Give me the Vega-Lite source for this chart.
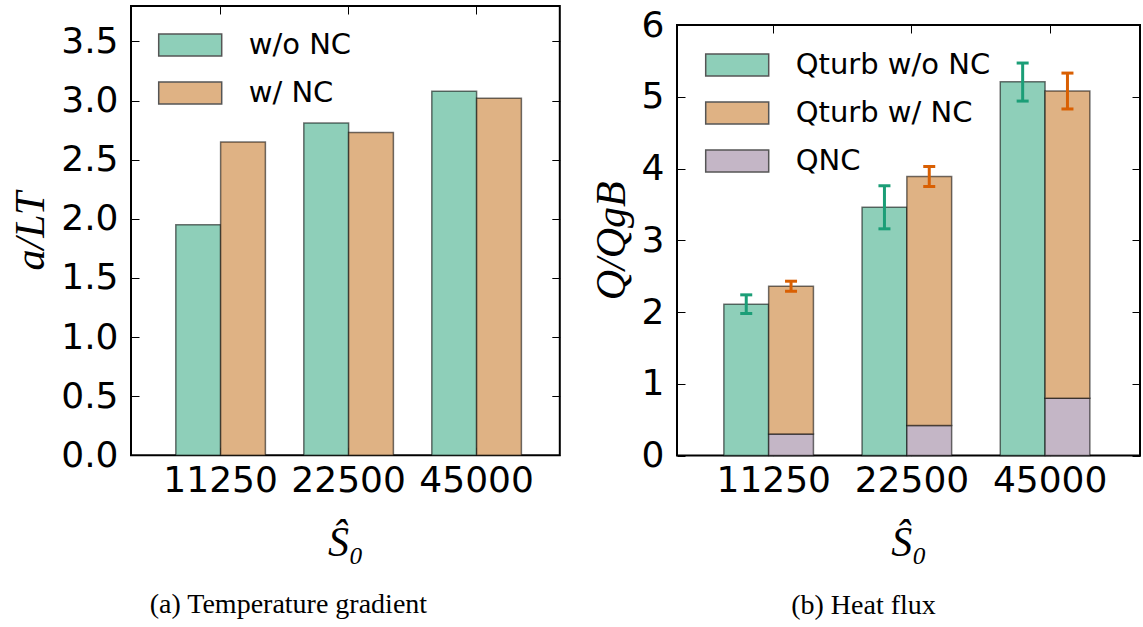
{
  "$schema": "https://vega.github.io/schema/vega-lite/v6.json",
  "padding": {"left": 8, "top": 4, "right": 0, "bottom": 0},
  "background": "white",
  "config": {
    "view": {"stroke": "black", "strokeWidth": 2},
    "axis": {"domain": false, "grid": false, "labelFont": "DejaVu Sans", "labelFontSize": 36, "labelColor": "black", "tickColor": "black", "tickWidth": 1, "titleFont": "Liberation Serif", "titleFontSize": 42, "titleFontStyle": "italic", "titleFontWeight": "normal", "titleColor": "black"},
    "legend": {"orient": "none", "title": null, "padding": 0, "labelFont": "DejaVu Sans", "labelFontSize": 29, "labelColor": "black", "labelLimit": 400, "labelOffset": 26, "symbolType": "M-1,-0.35H1V0.35H-1Z", "symbolSize": 3969, "symbolStrokeColor": "#555555", "symbolStrokeWidth": 1.5, "symbolOpacity": 1, "rowPadding": -21}
  },
  "datasets": {
    "aLT": [
      {"S0": "11250", "case": "w/o NC", "value": 1.95},
      {"S0": "11250", "case": "w/ NC", "value": 2.65},
      {"S0": "22500", "case": "w/o NC", "value": 2.81},
      {"S0": "22500", "case": "w/ NC", "value": 2.73},
      {"S0": "45000", "case": "w/o NC", "value": 3.08},
      {"S0": "45000", "case": "w/ NC", "value": 3.02}
    ],
    "Q": [
      {"S0": "11250", "grp": "w/o NC", "series": "Qturb w/o NC", "lo": 0, "hi": 2.11},
      {"S0": "11250", "grp": "w/ NC", "series": "QNC", "lo": 0, "hi": 0.3},
      {"S0": "11250", "grp": "w/ NC", "series": "Qturb w/ NC", "lo": 0.3, "hi": 2.36},
      {"S0": "22500", "grp": "w/o NC", "series": "Qturb w/o NC", "lo": 0, "hi": 3.46},
      {"S0": "22500", "grp": "w/ NC", "series": "QNC", "lo": 0, "hi": 0.42},
      {"S0": "22500", "grp": "w/ NC", "series": "Qturb w/ NC", "lo": 0.42, "hi": 3.89},
      {"S0": "45000", "grp": "w/o NC", "series": "Qturb w/o NC", "lo": 0, "hi": 5.21},
      {"S0": "45000", "grp": "w/ NC", "series": "QNC", "lo": 0, "hi": 0.8},
      {"S0": "45000", "grp": "w/ NC", "series": "Qturb w/ NC", "lo": 0.8, "hi": 5.08}
    ],
    "Qerr": [
      {"S0": "11250", "grp": "w/o NC", "elo": 1.98, "ehi": 2.24},
      {"S0": "11250", "grp": "w/ NC", "elo": 2.29, "ehi": 2.43},
      {"S0": "22500", "grp": "w/o NC", "elo": 3.16, "ehi": 3.76},
      {"S0": "22500", "grp": "w/ NC", "elo": 3.75, "ehi": 4.03},
      {"S0": "45000", "grp": "w/o NC", "elo": 4.94, "ehi": 5.47},
      {"S0": "45000", "grp": "w/ NC", "elo": 4.83, "ehi": 5.33}
    ]
  },
  "bounds": "flush",
  "spacing": 117,
  "resolve": {"scale": {"fill": "independent", "color": "independent"}, "legend": {"fill": "independent", "color": "independent"}},
  "hconcat": [
    {
      "width": 428.8,
      "height": 449.3,
      "data": {"name": "aLT"},
      "title": {"text": "(a) Temperature gradient", "orient": "bottom", "anchor": "middle", "dx": -57, "offset": 28, "font": "Liberation Serif", "fontSize": 28, "fontWeight": "normal", "color": "black"},
      "layer": [
        {
          "mark": {"type": "bar", "stroke": "black", "strokeOpacity": 0.55, "strokeWidth": 1.5},
          "encoding": {
            "x": {"field": "S0", "type": "nominal", "sort": ["11250", "22500", "45000"], "scale": {"paddingInner": 0, "paddingOuter": 0.175, "align": 0.5714}, "axis": {"orient": "bottom", "title": "Ŝ₀", "labelAngle": 0, "labelOverlap": false, "labelPadding": 16, "titlePadding": 24, "tickSize": -8}},
            "xOffset": {"field": "case", "type": "nominal", "scale": {"domain": ["w/o NC", "w/ NC"], "paddingInner": 0, "paddingOuter": 0.4286}},
            "y": {"field": "value", "type": "quantitative", "stack": null, "scale": {"domain": [0, 3.8], "nice": false}, "axis": {"orient": "left", "title": "a/LT", "values": [0, 0.5, 1, 1.5, 2, 2.5, 3, 3.5], "format": ".1f", "labelPadding": 21, "titlePadding": 8, "tickSize": -8}},
            "fill": {"field": "case", "type": "nominal", "scale": {"domain": ["w/o NC", "w/ NC"], "range": ["#8ecfb9", "#dfb284"]}, "legend": {"legendX": 26.7, "legendY": 6.5}}
          }
        },
        {
          "mark": {"type": "bar", "opacity": 0},
          "encoding": {
            "x": {"field": "S0", "type": "nominal", "sort": ["11250", "22500", "45000"], "scale": {"paddingInner": 0, "paddingOuter": 0.175, "align": 0.5714}, "axis": {"orient": "top", "title": null, "labels": false, "tickSize": -8}},
            "xOffset": {"field": "case", "type": "nominal", "scale": {"domain": ["w/o NC", "w/ NC"], "paddingInner": 0, "paddingOuter": 0.4286}},
            "y": {"field": "value", "type": "quantitative", "stack": null, "scale": {"domain": [0, 3.8], "nice": false}, "axis": {"orient": "right", "title": null, "labels": false, "values": [0, 0.5, 1, 1.5, 2, 2.5, 3, 3.5], "tickSize": -8}}
          }
        }
      ],
      "resolve": {"axis": {"x": "independent", "y": "independent"}}
    },
    {
      "bounds": "flush",
      "spacing": 0,
      "resolve": {"scale": {"fill": "independent", "color": "independent"}, "legend": {"fill": "independent", "color": "independent"}},
      "vconcat": [
        {"width": 463, "height": 18.7, "data": {"values": []}, "mark": {"type": "point", "opacity": 0}, "view": {"stroke": null}},
        {
          "width": 463,
          "height": 430.6,
          "data": {"name": "Q"},
          "title": {"text": "(b) Heat flux", "orient": "bottom", "anchor": "middle", "dx": -45, "offset": 28, "font": "Liberation Serif", "fontSize": 28, "fontWeight": "normal", "color": "black"},
          "layer": [
            {
              "mark": {"type": "bar", "stroke": "black", "strokeOpacity": 0.55, "strokeWidth": 1.5},
              "encoding": {
                "x": {"field": "S0", "type": "nominal", "sort": ["11250", "22500", "45000"], "scale": {"paddingInner": 0, "paddingOuter": 0.175, "align": 0.5714}, "axis": {"orient": "bottom", "title": "Ŝ₀", "labelAngle": 0, "labelOverlap": false, "labelPadding": 16, "titlePadding": 24, "tickSize": -8}},
                "xOffset": {"field": "grp", "type": "nominal", "scale": {"domain": ["w/o NC", "w/ NC"], "paddingInner": 0, "paddingOuter": 0.4286}},
                "y": {"field": "hi", "type": "quantitative", "scale": {"domain": [0, 6], "nice": false}, "axis": {"orient": "left", "title": "Q/QgB", "values": [0, 1, 2, 3, 4, 5, 6], "format": "d", "labelPadding": 21, "titlePadding": 8, "tickSize": -8}},
                "y2": {"field": "lo"},
                "fill": {"field": "series", "type": "nominal", "scale": {"domain": ["Qturb w/o NC", "Qturb w/ NC", "QNC"], "range": ["#8ecfb9", "#dfb284", "#c4b6c6"]}, "legend": {"legendX": 27.7, "legendY": 7.5, "rowPadding": -22}}
              }
            },
            {
              "mark": {"type": "bar", "opacity": 0},
              "encoding": {
                "x": {"field": "S0", "type": "nominal", "sort": ["11250", "22500", "45000"], "scale": {"paddingInner": 0, "paddingOuter": 0.175, "align": 0.5714}, "axis": {"orient": "top", "title": null, "labels": false, "tickSize": -8}},
                "xOffset": {"field": "grp", "type": "nominal", "scale": {"domain": ["w/o NC", "w/ NC"], "paddingInner": 0, "paddingOuter": 0.4286}},
                "y": {"field": "hi", "type": "quantitative", "scale": {"domain": [0, 6], "nice": false}, "axis": {"orient": "right", "title": null, "labels": false, "values": [0, 1, 2, 3, 4, 5, 6], "tickSize": -8}},
                "y2": {"field": "lo"}
              }
            },
            {
              "data": {"name": "Qerr"},
              "mark": {"type": "rule", "strokeWidth": 3},
              "encoding": {
                "x": {"field": "S0", "type": "nominal", "sort": ["11250", "22500", "45000"], "axis": null},
                "xOffset": {"field": "grp", "type": "nominal", "scale": {"domain": ["w/o NC", "w/ NC"]}},
                "y": {"field": "elo", "type": "quantitative", "axis": null},
                "y2": {"field": "ehi"},
                "color": {"field": "grp", "type": "nominal", "scale": {"domain": ["w/o NC", "w/ NC"], "range": ["#1b9e77", "#d95f02"]}, "legend": null}
              }
            },
            {
              "data": {"name": "Qerr"},
              "mark": {"type": "tick", "thickness": 3, "size": 12, "opacity": 1},
              "encoding": {
                "x": {"field": "S0", "type": "nominal", "sort": ["11250", "22500", "45000"], "axis": null},
                "xOffset": {"field": "grp", "type": "nominal", "scale": {"domain": ["w/o NC", "w/ NC"]}},
                "y": {"field": "elo", "type": "quantitative", "axis": null},
                "color": {"field": "grp", "type": "nominal", "scale": {"domain": ["w/o NC", "w/ NC"], "range": ["#1b9e77", "#d95f02"]}, "legend": null}
              }
            },
            {
              "data": {"name": "Qerr"},
              "mark": {"type": "tick", "thickness": 3, "size": 12, "opacity": 1},
              "encoding": {
                "x": {"field": "S0", "type": "nominal", "sort": ["11250", "22500", "45000"], "axis": null},
                "xOffset": {"field": "grp", "type": "nominal", "scale": {"domain": ["w/o NC", "w/ NC"]}},
                "y": {"field": "ehi", "type": "quantitative", "axis": null},
                "color": {"field": "grp", "type": "nominal", "scale": {"domain": ["w/o NC", "w/ NC"], "range": ["#1b9e77", "#d95f02"]}, "legend": null}
              }
            }
          ],
          "resolve": {"axis": {"x": "independent", "y": "independent"}}
        }
      ]
    }
  ]
}
